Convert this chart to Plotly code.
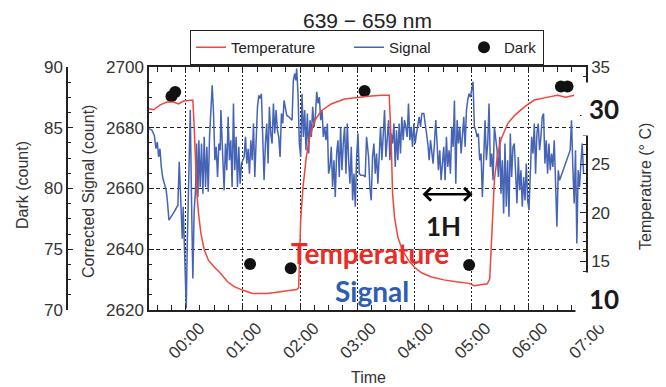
import plotly.graph_objects as go

# ---------------- data ----------------
tick_minutes = [0, 60, 120, 180, 240, 300, 360, 420]
tick_labels = ["00:00", "01:00", "02:00", "03:00", "04:00", "05:00", "06:00", "07:00"]

temp_tick_vals = [10, 15, 20, 25, 30, 35]
temp_tick_text = ["", "15", "20", "25", "", "35"]

# Corrected signal (count) vs time (minutes from 00:00)
signal_time = [
    -38.4, -35.3, -32.8, -31.1, -29.7, -28.3, -26.9, -25.5, -23.8, -21.7, -20.3, -18.9, -17.5,
    -12.6, -8.1, -6.7, -5.6, -4.6, -3.5, -2.5, -1.4, -0.4, 0.7, 1.7, 3.1, 4.9, 6.2, 7.6, 9.0,
    10.4, 11.5, 12.9, 13.9, 15.3, 16.7, 18.1, 19.5, 20.9, 22.3, 23.7, 25.1, 26.5, 27.9, 29.3,
    30.7, 32.1, 33.5, 34.9, 36.3,
    37.0, 38.7, 40.4, 41.8, 43.2, 44.6, 46.0, 47.4, 48.8, 50.2, 51.6, 53.0, 54.4, 55.8, 57.2,
    58.6, 60.0, 61.4, 62.8, 64.2, 65.6, 67.0, 68.4, 69.8, 71.2, 72.6, 74.0, 75.4, 76.8, 78.1,
    79.5, 80.9, 82.3, 83.7, 85.1, 86.5, 87.9, 89.3, 90.7, 92.1, 93.5, 94.9, 96.3, 97.7, 99.1,
    100.5, 101.9, 103.3, 104.7, 106.1, 108.2, 110.3, 111.7, 113.0, 114.4,
    115.5, 116.5, 117.9, 119.3, 120.7, 122.1, 123.5, 124.9, 126.3, 127.7, 129.1, 130.5, 131.9,
    133.3, 134.7, 136.1, 137.5, 138.9, 140.3, 141.7, 143.1, 144.5, 145.9, 147.3, 148.7, 150.0,
    151.4, 152.8, 154.2, 155.6, 157.0, 158.4, 159.8, 161.2, 162.6, 164.0, 165.4, 166.8, 168.2,
    169.6, 171.0, 172.4, 173.8, 175.2, 176.6, 178.0, 179.4, 180.8, 182.2, 183.6, 186.3, 188.4,
    189.8,
    191.9, 193.3, 194.7, 196.1, 197.5, 198.9, 200.3, 201.7, 203.1, 204.5, 205.9, 207.3, 208.7,
    210.1, 211.5, 212.9, 214.3, 215.7, 217.1, 218.5, 219.9, 221.2, 222.6, 224.0, 225.4, 226.8,
    228.2, 229.6, 231.0, 232.4, 233.8, 235.2, 236.6, 238.0, 239.4, 240.8, 242.2, 243.6, 245.0,
    246.4, 247.8, 249.9, 251.3, 252.7, 254.1, 255.5, 256.9, 258.2, 259.6, 261.0, 262.4, 263.8,
    265.2, 266.6, 268.0,
    269.4, 270.8, 272.2, 273.6, 275.0, 276.4, 277.8, 279.2, 280.6, 282.0, 283.4, 284.8, 286.2,
    287.6, 289.0, 290.4, 291.8, 293.2, 294.6, 295.9, 297.3, 298.7, 300.1, 301.5, 302.9, 304.3,
    305.7, 307.1, 308.5, 309.9, 311.3, 312.7, 314.1, 315.5, 316.9, 318.3, 319.7, 321.1, 322.5,
    323.9, 325.3, 326.7, 328.1, 329.5, 330.8, 332.2, 333.6, 335.0, 336.4, 337.8, 339.2, 340.6,
    342.0, 343.4,
    344.8, 346.2, 347.6, 349.0, 350.4, 351.8, 353.2, 354.6, 356.0, 357.4, 358.8, 360.2, 361.6,
    363.0, 364.4, 365.8, 367.1, 368.5, 369.9, 371.3, 372.7, 374.1, 375.5, 376.9, 378.3, 379.7,
    381.1, 382.5, 383.9, 385.3, 386.7, 388.1, 389.5, 390.9, 392.3, 403.4, 404.8, 406.2, 407.6,
    409.0, 410.4, 411.8, 413.2, 414.6, 416.0, 417.4,
]
signal_counts = [
    2679.7, 2679.2, 2677.5, 2673.1, 2675.3, 2670.4, 2673.1, 2667.1, 2663.3, 2661.1, 2659.4, 2655.1, 2649.6,
    2652.0, 2654.5, 2668.8, 2658.3, 2650.7, 2643.5, 2654.0, 2642.4, 2635.3, 2620.5, 2640.8, 2659.4, 2685.8, 2656.1, 2630.4, 2652.9,
    2659.4, 2674.8, 2657.2, 2675.9, 2660.5, 2674.8, 2658.3, 2677.0, 2660.5, 2673.7, 2658.9, 2677.0, 2688.0, 2694.0, 2684.7,
    2669.3, 2673.7, 2663.8, 2674.8, 2672.6,
    2685.8, 2669.3, 2659.4, 2674.8, 2666.0, 2683.6, 2669.3, 2675.9, 2660.5, 2688.0, 2666.0, 2677.0, 2660.5, 2673.7, 2661.6,
    2668.2, 2669.3, 2670.4, 2677.0, 2668.2, 2673.1, 2664.9, 2675.9, 2669.3, 2681.4, 2663.8, 2675.9, 2686.9, 2690.7, 2689.6,
    2691.2, 2673.7, 2662.7, 2674.8, 2681.4, 2668.2, 2686.9, 2678.1, 2674.8, 2688.0, 2678.1, 2685.8, 2679.2, 2677.0, 2670.4,
    2684.7, 2681.4, 2689.0, 2686.9, 2684.1, 2683.6, 2683.0, 2682.5, 2695.6, 2697.8,
    2695.6, 2699.5, 2691.2, 2674.8, 2670.4, 2691.2, 2677.0, 2685.8, 2672.6, 2684.7, 2671.5, 2682.5, 2677.0,
    2686.9, 2680.3, 2683.6, 2691.8, 2688.0, 2690.1, 2682.5, 2685.8, 2677.0, 2680.3, 2675.9, 2681.4, 2664.9,
    2667.1, 2673.7, 2660.5, 2669.3, 2657.2, 2671.5, 2675.9, 2663.8, 2680.3, 2666.0, 2674.8, 2680.3, 2664.9,
    2681.4, 2669.3, 2661.6, 2673.7, 2656.1, 2664.9, 2654.0, 2670.4, 2678.1, 2664.9, 2664.4, 2664.4, 2663.8,
    2677.0,
    2670.4, 2660.5, 2656.1, 2670.4, 2674.8, 2664.9, 2671.5, 2661.6, 2673.7, 2680.3, 2669.3, 2677.0, 2685.8,
    2670.4, 2678.1, 2682.5, 2669.3, 2678.1, 2674.8, 2681.4, 2667.1, 2679.2, 2669.3, 2681.4, 2671.5, 2683.6,
    2675.9, 2682.5, 2680.3, 2677.0, 2688.0, 2675.9, 2680.3, 2673.7, 2681.4, 2674.8, 2678.1, 2680.3, 2683.6,
    2680.3, 2684.7, 2684.7, 2680.3, 2678.1, 2674.8, 2669.3, 2675.9, 2672.6, 2668.2, 2674.8, 2682.5, 2674.8,
    2666.0, 2672.6, 2662.7,
    2668.2, 2673.7, 2662.7, 2677.0, 2667.1, 2672.6, 2664.9, 2680.3, 2673.7, 2689.0, 2661.6, 2682.5, 2674.8,
    2680.3, 2671.5, 2677.0, 2683.6, 2673.7, 2685.8, 2689.0, 2691.2, 2690.1, 2692.3, 2695.1, 2680.3, 2679.2,
    2677.0, 2678.1, 2669.3, 2671.5, 2657.2, 2674.8, 2682.5, 2669.3, 2674.8, 2688.0, 2667.1, 2671.5, 2662.7,
    2680.3, 2675.9, 2672.6, 2663.8, 2677.0, 2658.3, 2669.3, 2651.8, 2674.8, 2654.0, 2669.3, 2650.7, 2678.1,
    2663.8, 2673.7,
    2674.8, 2664.9, 2655.1, 2670.4, 2659.4, 2666.0, 2654.0, 2663.8, 2656.1, 2668.2, 2656.1, 2652.9, 2669.3,
    2677.0, 2671.5, 2681.4, 2664.9, 2678.1, 2681.4, 2672.6, 2677.0, 2683.6, 2684.7, 2668.2, 2675.9, 2664.9,
    2674.8, 2666.0, 2671.5, 2667.1, 2675.9, 2662.7, 2647.4, 2666.0, 2662.7, 2672.6, 2682.5, 2667.1, 2655.1,
    2672.6, 2641.9, 2666.0, 2660.5, 2668.2, 2674.8, 2664.9,
]

# Temperature (deg C) vs time (minutes)
temp_time = [
    -38.4, -33.5, -26.6, -19.6, -12.6, -7.4, -2.1, 7.6, 9.0, 10.4, 11.8, 13.6, 16.0, 19.5, 24.1,
    29.3, 36.3, 44.0, 51.0, 59.6, 70.1, 85.8, 103.3, 112.0, 116.5, 118.6, 120.7, 123.2, 126.7,
    130.2, 135.4, 142.4, 152.8, 166.8, 180.8, 191.9, 205.9, 213.6, 215.7, 217.1, 219.2, 222.6,
    226.8, 233.8, 240.0, 247.8, 258.0, 270.8, 284.0, 297.3, 302.6, 316.5, 319.0, 320.4, 322.0,
    324.0, 327.0, 331.0, 338.0, 345.0, 355.3, 365.8, 380.0, 390.2, 398.9, 407.6,
]
temp_c = [
    30.7, 30.6, 31.1, 31.4, 31.4, 31.2, 31.5, 31.6, 28.8, 25.4, 22.0, 19.9, 17.9, 16.2, 15.1,
    14.5, 13.8, 12.9, 12.4, 12.05, 11.7, 11.7, 11.9, 12.05, 12.1, 12.3, 19.3, 22.7, 25.8,
    27.8, 29.5, 30.5, 31.2, 31.7, 31.9, 32.0, 32.1, 32.1, 27.1, 22.0, 19.5, 17.5,
    16.3, 15.1, 14.4, 13.8, 13.4, 13.1, 12.9, 12.74, 12.5, 12.7, 13.2, 16.5, 20.5,
    23.5, 25.8, 27.6, 29.2, 30.0, 30.9, 31.6, 31.9, 32.1, 31.9, 32.1,
]

# Dark (count) vs time (minutes)
dark_time = [-14.8, -10.9, 67.6, 110.3, 187.7, 297.4, 393.7, 400.6]
dark_counts = [87.6, 87.95, 73.79, 73.43, 88.03, 73.7, 88.4, 88.4]

# ---------------- layout helpers ----------------
# The page body has an 8 px margin, so the figure sits at (8, 8) in the window.
OFF = 8
WIN_W, WIN_H = 666, 387
W, H = WIN_W - OFF, WIN_H - OFF
ML, MR, MT, MB = 42, 80, 59, 77
PW, PH = W - ML - MR, H - MT - MB


def fx(px):  # window pixel x -> paper fraction
    return (px - OFF - ML) / PW


def fy(py):  # window pixel y -> paper fraction
    return (H - MB - (py - OFF)) / PH


INK = "#222222"
TXT = "#333333"
FONT = "Liberation Sans, Arial, sans-serif"
BOLD = "Lato, Open Sans, sans-serif"

fig = go.Figure()

fig.add_trace(go.Scatter(
    x=signal_time, y=signal_counts, name="Signal", mode="lines",
    line=dict(color="#4564b6", width=1.5), yaxis="y", legendrank=2, legendwidth=70,
))
fig.add_trace(go.Scatter(
    x=temp_time, y=temp_c, name="Temperature", mode="lines",
    line=dict(color="#f2453d", width=1.5), yaxis="y3", legendrank=1, legendwidth=113,
))
fig.add_trace(go.Scatter(
    x=dark_time, y=dark_counts, name="Dark", mode="markers",
    marker=dict(color="#111111", size=12), yaxis="y2", legendrank=3, legendwidth=34,
))

axis_common = dict(showline=True, linecolor=INK, linewidth=1.5, tickcolor=INK,
                   zeroline=False, tickfont=dict(family=FONT, size=17, color=TXT))
grid_common = dict(showgrid=True, gridcolor=INK, gridwidth=1)

fig.update_layout(
    width=W, height=H,
    margin=dict(l=ML, r=MR, t=MT, b=MB, autoexpand=False),
    paper_bgcolor="white", plot_bgcolor="white",
    font=dict(family=FONT, color=TXT),
    showlegend=True,
    legend=dict(orientation="h", x=fx(190), xanchor="left", y=fy(65), yanchor="bottom",
                bordercolor=INK, borderwidth=1, bgcolor="white",
                font=dict(family=FONT, size=15, color=INK)),
    xaxis=dict(
        domain=[fx(149), 1], range=[-38.4, 420], anchor="y",
        tickmode="array", tickvals=tick_minutes, ticktext=tick_labels,
        tickangle=-45, ticks="inside", ticklen=5, mirror="ticks",
        ticklabelshift=14, griddash="2px,2px",
        minor=dict(dtick=15, tick0=0, ticks="inside", ticklen=5, tickcolor=INK, showgrid=False),
        **axis_common, **grid_common,
    ),
    yaxis=dict(
        range=[2620, 2700], tick0=2620, dtick=20, anchor="x", side="left",
        ticks="inside", ticklen=5, griddash="4px,3px",
        minor=dict(dtick=5, ticks="inside", ticklen=3, tickcolor=INK, showgrid=False),
        **axis_common, **grid_common,
    ),
    yaxis2=dict(
        range=[70, 90], tick0=70, dtick=5, overlaying="y", anchor="free",
        position=fx(67), side="left", ticks="inside", ticklen=5, showgrid=False,
        minor=dict(dtick=1.25, tick0=70, ticks="inside", ticklen=3, tickcolor=INK),
        **axis_common,
    ),
    yaxis3=dict(
        range=[10, 35], overlaying="y", anchor="x", side="right",
        tickmode="array", tickvals=temp_tick_vals, ticktext=temp_tick_text,
        ticks="inside", ticklen=6, showgrid=False,
        minor=dict(dtick=1, tick0=10, ticks="inside", ticklen=3, tickcolor=INK),
        **axis_common,
    ),
)

annotations = [
    # chart title
    dict(text="639 \u2212 659 nm", x=fx(367), y=fy(21),
         font=dict(size=21, color=INK)),
    # axis titles
    dict(text="Dark (count)", x=fx(22), y=fy(185), textangle=-90,
         font=dict(size=16, color=TXT)),
    dict(text="Corrected Signal (count)", x=fx(88), y=fy(192), textangle=-90,
         font=dict(size=16, color=TXT)),
    dict(text="Temperature (\u00b0 C)", x=fx(645), y=fy(187), textangle=-90,
         font=dict(size=16, color=TXT)),
    dict(text="Time", x=fx(368), y=fy(377), font=dict(size=16, color=TXT)),
    # overlay labels
    dict(text="<b>Temperature</b>", x=fx(369.5), y=fy(253),
         font=dict(family=BOLD, size=28, color="#ec2b25")),
    dict(text="<b>Signal</b>", x=fx(371.5), y=fy(291),
         font=dict(family=BOLD, size=28, color="#2f5db3")),
    dict(text="<b>1H</b>", x=fx(443), y=fy(226), borderpad=0,
         font=dict(family=BOLD, size=26, color="#1a1a1a")),
    dict(text="<b>30</b>", x=fx(604), y=fy(109), width=44, height=52,
         bgcolor="white", borderpad=0,
         font=dict(family=BOLD, size=26, color="#1a1a1a")),
    dict(text="<b>10</b>", x=fx(604), y=fy(299), width=56, height=52,
         bgcolor="white", borderpad=0,
         font=dict(family=BOLD, size=26, color="#1a1a1a")),
]
for a in annotations:
    a.setdefault("xref", "paper")
    a.setdefault("yref", "paper")
    a.setdefault("showarrow", False)
    a.setdefault("xanchor", "center")
    a.setdefault("yanchor", "middle")
    fig.add_annotation(**a)

# 1-hour double arrow
fig.add_annotation(
    x=301, y=2658.1, ax=247, ay=2658.1, xref="x", yref="y", axref="x", ayref="y",
    text="", showarrow=True, arrowside="end+start", arrowhead=4, startarrowhead=4,
    arrowsize=1, startarrowsize=1, arrowwidth=2.5, arrowcolor="black",
    standoff=0, startstandoff=0,
)

fig.write_html("out.html")
